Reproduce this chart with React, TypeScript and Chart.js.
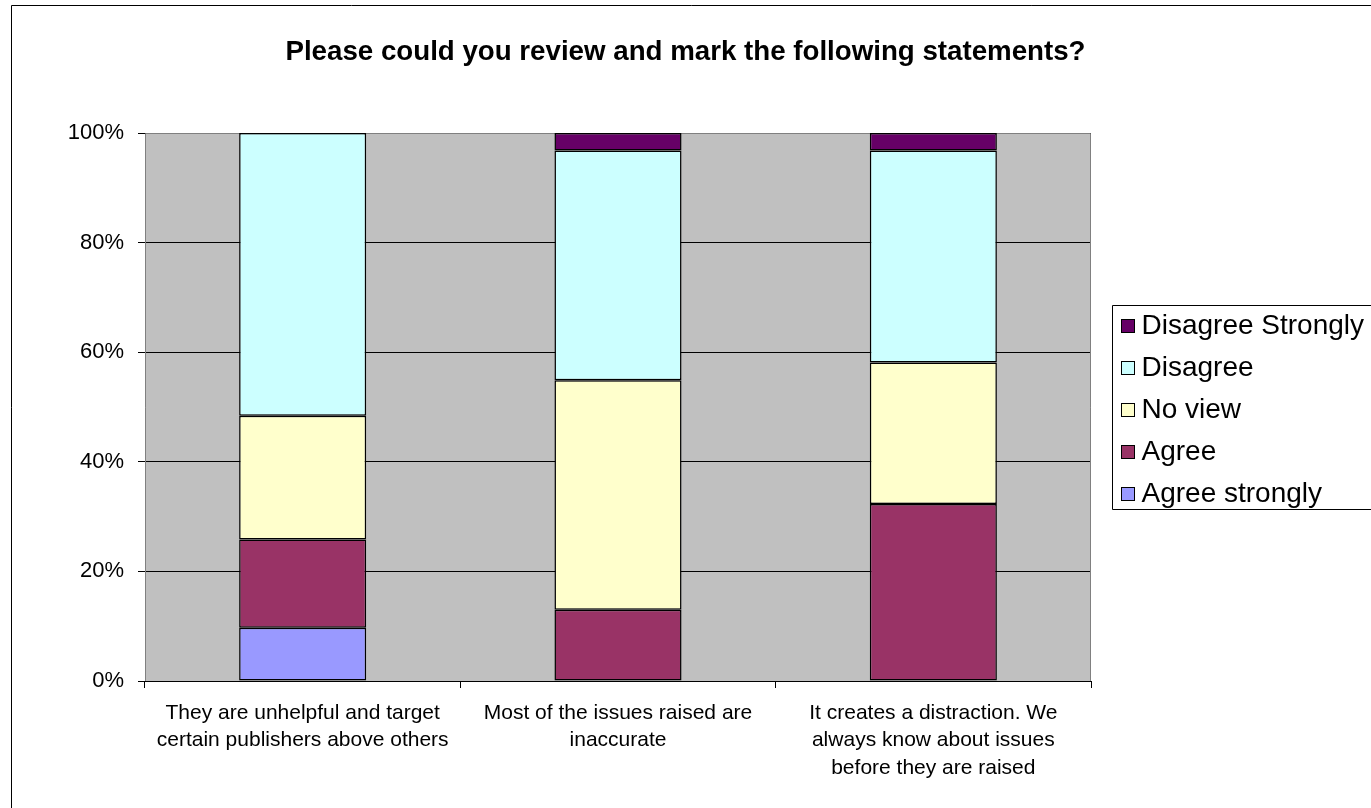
import React, { useEffect, useRef } from 'react';
import { Chart, registerables } from 'chart.js';

Chart.register(...registerables);

const TITLE = 'Please could you review and mark the following statements?';

const categories: string[][] = [
  ['They are unhelpful and target', 'certain publishers above others'],
  ['Most of the issues raised are', 'inaccurate'],
  ['It creates a distraction. We', 'always know about issues', 'before they are raised'],
];

const yTicks = [0, 20, 40, 60, 80, 100];

const seriesNames = ['Agree strongly', 'Agree', 'No view', 'Disagree', 'Disagree Strongly'];
const seriesColors = ['#9999FF', '#993366', '#FFFFCC', '#CCFFFF', '#660066'];

const agreeStrongly = [9.7, null, null];
const agree = [16.1, 13.0, 32.3];
const noView = [22.6, 41.9, 25.8];
const disagree = [51.6, 41.9, 38.7];
const disagreeStrongly = [null, 3.2, 3.2];

const seriesValues = [agreeStrongly, agree, noView, disagree, disagreeStrongly];

const FONT = '"Liberation Sans", Arial, Helvetica, sans-serif';

const W = 1371;
const H = 808;

const frame = {
  id: 'frame',
  beforeDraw(chart: any) {
    const { ctx, chartArea } = chart;
    ctx.save();
    ctx.fillStyle = '#ffffff';
    ctx.fillRect(0, 0, chart.width, chart.height);
    // outer chart border (cropped: left and top visible)
    ctx.strokeStyle = '#000000';
    ctx.lineWidth = 1;
    ctx.beginPath();
    ctx.moveTo(11.5, chart.height + 2);
    ctx.lineTo(11.5, 5.5);
    ctx.lineTo(chart.width + 2, 5.5);
    ctx.stroke();
    // title
    ctx.fillStyle = '#000000';
    ctx.font = `bold 27.7px ${FONT}`;
    ctx.textAlign = 'center';
    ctx.textBaseline = 'middle';
    ctx.fillText(TITLE, chart.width / 2, 52);
    // plot area background
    ctx.fillStyle = '#C0C0C0';
    ctx.fillRect(chartArea.left, chartArea.top, chartArea.right - chartArea.left, chartArea.bottom - chartArea.top);
    ctx.restore();
  },
  beforeDatasetsDraw(chart: any) {
    const { ctx, chartArea } = chart;
    ctx.save();
    ctx.strokeStyle = '#808080';
    ctx.lineWidth = 1;
    const l = Math.round(chartArea.left) + 0.5;
    const r = Math.round(chartArea.right) - 0.5;
    const t = Math.round(chartArea.top) + 0.5;
    const b = Math.round(chartArea.bottom);
    ctx.beginPath();
    ctx.moveTo(l, b);
    ctx.lineTo(l, t);
    ctx.lineTo(r, t);
    ctx.lineTo(r, b);
    ctx.stroke();
    ctx.restore();
  },
  afterDraw(chart: any) {
    const { ctx, chartArea } = chart;
    const datasets = chart.data.datasets.slice().reverse();
    const boxLeft = Math.round(chartArea.right) + 21.5;
    const firstY = 325;
    const step = 42;
    const top = 305.5;
    const bottom = firstY + step * (datasets.length - 1) + 16.5;
    ctx.save();
    ctx.strokeStyle = '#000000';
    ctx.lineWidth = 1;
    ctx.beginPath();
    ctx.moveTo(chart.width + 2, top);
    ctx.lineTo(boxLeft, top);
    ctx.lineTo(boxLeft, bottom);
    ctx.lineTo(chart.width + 2, bottom);
    ctx.stroke();
    ctx.font = `28px ${FONT}`;
    ctx.textBaseline = 'middle';
    ctx.textAlign = 'left';
    datasets.forEach((ds: any, i: number) => {
      const cy = firstY + i * step;
      const sq = 13;
      const sx = Math.round(boxLeft + 8) + 0.5;
      const sy = Math.round(cy - sq / 2) + 0.5;
      ctx.fillStyle = ds.backgroundColor;
      ctx.fillRect(sx, sy, sq, sq);
      ctx.strokeStyle = '#000000';
      ctx.strokeRect(sx, sy, sq, sq);
      ctx.fillStyle = '#000000';
      ctx.fillText(ds.label, sx + sq + 7, cy + 1);
    });
    ctx.restore();
  },
};

export default function App() {
  const ref = useRef<HTMLCanvasElement | null>(null);

  useEffect(() => {
    if (!ref.current) return;
    const chart = new Chart(ref.current, {
      type: 'bar',
      data: {
        labels: categories,
        datasets: seriesNames.map((name, i) => ({
          label: name,
          data: seriesValues[i],
          backgroundColor: seriesColors[i],
          borderColor: '#000000',
          borderWidth: 1.5,
          borderSkipped: false,
          barPercentage: 0.403,
          categoryPercentage: 1,
        })),
      },
      options: {
        responsive: false,
        animation: false,
        devicePixelRatio: 1,
        layout: { padding: { left: 0, right: W - 1091, top: 133, bottom: 0 } },
        plugins: {
          legend: { display: false },
          tooltip: { enabled: false },
          title: { display: false },
        },
        scales: {
          x: {
            stacked: true,
            offset: true,
            grid: {
              offset: true,
              drawOnChartArea: false,
              drawTicks: true,
              tickLength: 7,
              tickColor: '#000000',
              color: '#000000',
            },
            border: { display: true, color: '#000000', width: 1 },
            ticks: {
              color: '#000000',
              font: { family: FONT, size: 21, lineHeight: 27.5 / 21 },
              padding: 11,
              maxRotation: 0,
              autoSkip: false,
            },
            afterFit: (s: any) => {
              s.height = H - 681;
            },
          },
          y: {
            stacked: true,
            min: 0,
            max: 100,
            afterBuildTicks: (s: any) => {
              s.ticks = yTicks.map((v) => ({ value: v }));
            },
            grid: {
              color: '#000000',
              lineWidth: 1,
              drawTicks: true,
              tickLength: 7,
              tickColor: '#000000',
            },
            border: { display: false },
            ticks: {
              color: '#000000',
              font: { family: FONT, size: 22 },
              padding: 14,
              callback: (v: any) => `${v}%`,
            },
            afterFit: (s: any) => {
              s.width = 145;
            },
          },
        },
      },
      plugins: [frame],
    });
    return () => chart.destroy();
  }, []);

  return (
    <div style={{ position: 'absolute', left: 0, top: 0, width: W, height: H, overflow: 'hidden', background: '#fff' }}>
      <canvas ref={ref} width={W} height={H} style={{ display: 'block' }} />
    </div>
  );
}
